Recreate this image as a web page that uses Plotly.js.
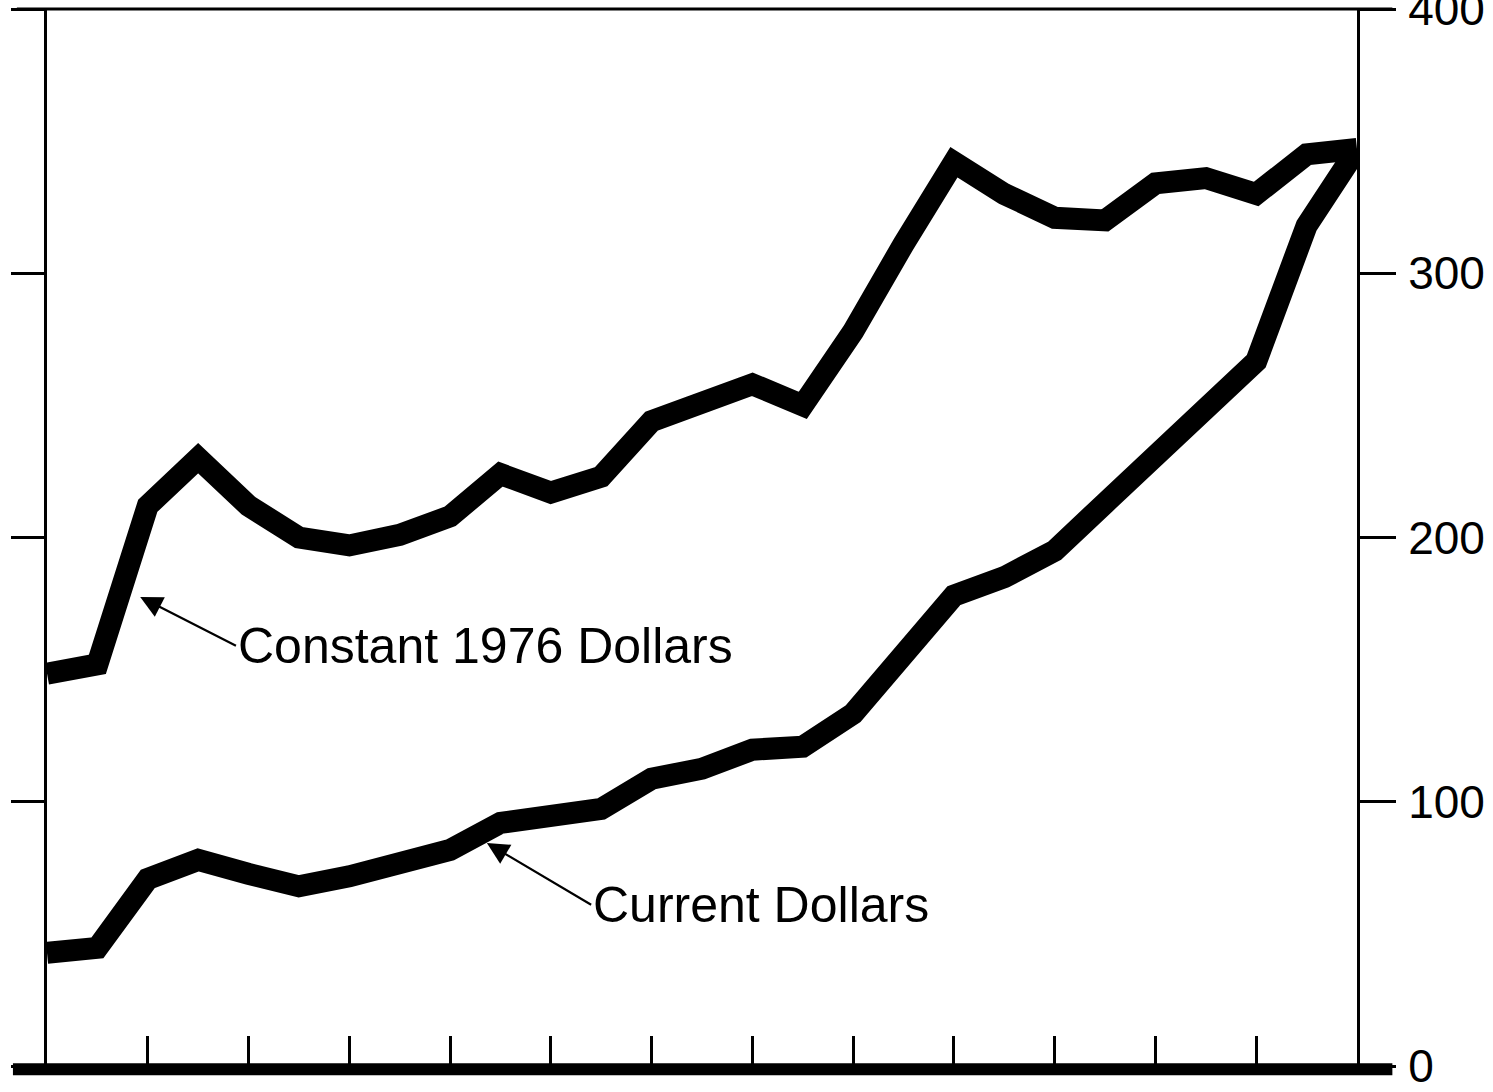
<!DOCTYPE html>
<html>
<head>
<meta charset="utf-8">
<script src="https://cdn.plot.ly/plotly-3.0.1.min.js"></script>
<style>
  html, body { margin: 0; padding: 0; background: #ffffff; }
  #chart { width: 1493px; height: 1092px; }
</style>
</head>
<body>
<div id="chart"></div>
<script>
// ---- data ----
const years = [1950, 1951, 1952, 1953, 1954, 1955, 1956, 1957, 1958, 1959,
               1960, 1961, 1962, 1963, 1964, 1965, 1966, 1967, 1968, 1969,
               1970, 1971, 1972, 1973, 1974, 1975, 1976];
const constantDollars = [148.5, 152, 212, 230, 212, 200, 197, 201, 208, 224,
                         217, 223, 244, 251, 258, 250, 278, 311, 342, 330,
                         321, 320, 334, 336, 330, 345, 347];
const currentDollars = [42.8, 44.7, 70.8, 78, 72.7, 68, 71.8, 76.9, 81.8, 92,
                        94, 97.3, 108.7, 112.5, 119.7, 120.8, 133.3, 155, 178, 185,
                        195, 213, 231, 249, 266.7, 318, 347];
const xTickYears = [1952, 1954, 1956, 1958, 1960, 1962, 1964, 1966, 1968, 1970, 1972, 1974, 1976];
const yTickValues = [0, 100, 200, 300, 400];
const yTickLabels = ['0', '100', '200', '300', '400'];
const labelConstant = 'Constant 1976 Dollars';
const labelCurrent = 'Current Dollars';

const lineStyle = { color: '#000000', width: 22 };

const traces = [
  { x: years, y: constantDollars, type: 'scatter', mode: 'lines', line: lineStyle,
    name: labelConstant, hoverinfo: 'skip', yaxis: 'y' },
  { x: years, y: currentDollars, type: 'scatter', mode: 'lines', line: lineStyle,
    name: labelCurrent, hoverinfo: 'skip', yaxis: 'y2' }
];

const fontFamily = '"Liberation Sans", Arial, sans-serif';

const layout = {
  width: 1493,
  height: 1092,
  margin: { l: 47, r: 136, t: 9, b: 26 },
  paper_bgcolor: '#ffffff',
  plot_bgcolor: '#ffffff',
  showlegend: false,
  font: { family: fontFamily, color: '#000000' },
  xaxis: {
    range: [1950, 1976],
    showgrid: false, zeroline: false, showline: false,
    ticks: 'inside', ticklen: 30, tickwidth: 3, tickcolor: '#000000',
    tickmode: 'array', tickvals: xTickYears,
    showticklabels: false, fixedrange: true
  },
  yaxis: {
    range: [0, 400],
    showgrid: false, zeroline: false,
    showline: true, linewidth: 3, linecolor: '#000000',
    ticks: 'outside', ticklen: 33, tickwidth: 3, tickcolor: '#000000',
    tickmode: 'array', tickvals: yTickValues,
    showticklabels: false, fixedrange: true
  },
  yaxis2: {
    range: [0, 400],
    overlaying: 'y', side: 'right',
    showgrid: false, zeroline: false,
    showline: true, linewidth: 3, linecolor: '#000000',
    ticks: 'outside', ticklen: 36, tickwidth: 3, tickcolor: '#000000',
    tickmode: 'array', tickvals: yTickValues, ticktext: yTickLabels,
    tickfont: { family: fontFamily, size: 46, color: '#000000' },
    ticklabelstandoff: 3,
    ticklabeloverflow: 'allow',
    fixedrange: true
  },
  shapes: [
    { type: 'line', xref: 'paper', yref: 'paper', x0: -0.026, x1: 1.027, y0: -0.003, y1: -0.003,
      line: { color: '#000000', width: 12 }, layer: 'above' },
    { type: 'line', xref: 'paper', yref: 'paper', x0: -0.023, x1: 1.027, y0: 1, y1: 1,
      line: { color: '#000000', width: 3 }, layer: 'above' }
  ],
  annotations: [
    { x: 1951.85, y: 177.5, ax: 1953.75, ay: 159, xref: 'x', yref: 'y', axref: 'x', ayref: 'y',
      text: labelConstant, showarrow: true, arrowhead: 2, arrowsize: 2, arrowwidth: 2.2,
      arrowcolor: '#000000', xanchor: 'left', yanchor: 'middle',
      font: { family: fontFamily, size: 50, color: '#000000' } },
    { x: 1958.73, y: 84.4, ax: 1960.8, ay: 61, xref: 'x', yref: 'y', axref: 'x', ayref: 'y',
      text: labelCurrent, showarrow: true, arrowhead: 2, arrowsize: 2, arrowwidth: 2.2,
      arrowcolor: '#000000', xanchor: 'left', yanchor: 'middle',
      font: { family: fontFamily, size: 50, color: '#000000' } }
  ]
};

Plotly.newPlot('chart', traces, layout, { staticPlot: true, displayModeBar: false });
</script>
</body>
</html>
